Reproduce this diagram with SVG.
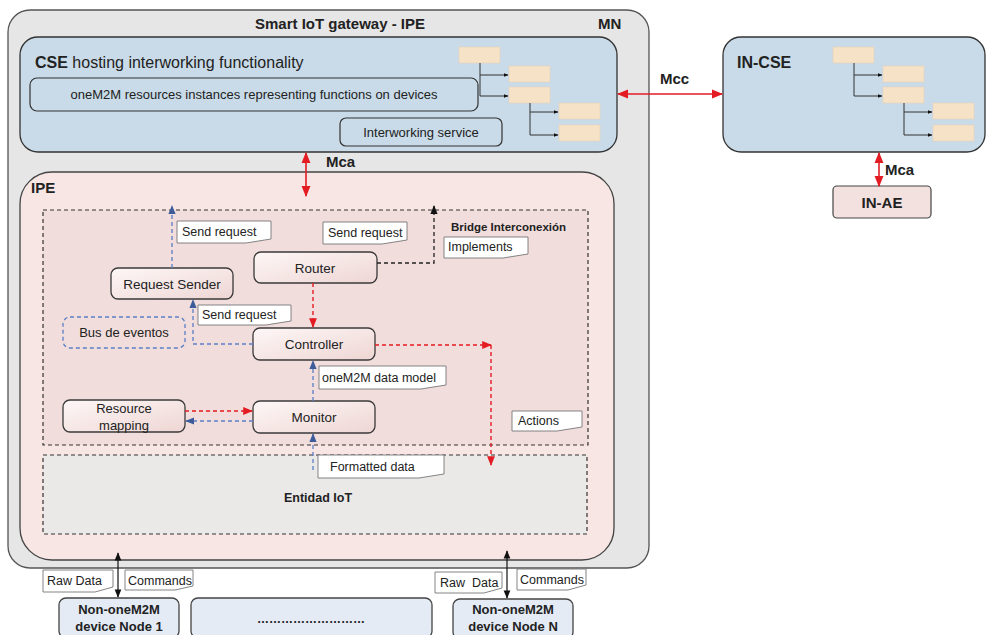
<svg xmlns="http://www.w3.org/2000/svg" width="986" height="635" viewBox="0 0 986 635">
<defs>
  <linearGradient id="nodeGrad" x1="0" y1="0" x2="1" y2="1">
    <stop offset="0" stop-color="#fdf7f6"/>
    <stop offset="1" stop-color="#eed6d4"/>
  </linearGradient>
  <marker id="ar" viewBox="0 0 10 10" refX="9" refY="5" markerWidth="7" markerHeight="7" orient="auto-start-reverse"><path d="M0,1 L10,5 L0,9 Z" fill="#e31b23"/></marker>
  <marker id="ab" viewBox="0 0 10 10" refX="9" refY="5" markerWidth="7" markerHeight="7" orient="auto-start-reverse"><path d="M0,1 L10,5 L0,9 Z" fill="#3d5c99"/></marker>
  <marker id="ak" viewBox="0 0 10 10" refX="9" refY="5" markerWidth="7" markerHeight="7" orient="auto-start-reverse"><path d="M0,1 L10,5 L0,9 Z" fill="#111"/></marker>
  <marker id="at" viewBox="0 0 10 10" refX="9" refY="5" markerWidth="5" markerHeight="5" orient="auto"><path d="M0,1 L10,5 L0,9 Z" fill="#111"/></marker>
  <g id="tree">
    <rect x="0" y="0" width="41" height="16" class="tb"/>
    <rect x="50" y="19" width="41" height="16" class="tb"/>
    <rect x="50" y="40" width="41" height="16" class="tb"/>
    <rect x="100" y="56" width="41" height="16" class="tb"/>
    <rect x="100" y="78" width="41" height="16" class="tb"/>
    <path d="M21,16 V49 M71,56 V88" class="tl"/>
    <path d="M21,28 H49" class="tl" marker-end="url(#at)"/>
    <path d="M21,49 H49" class="tl" marker-end="url(#at)"/>
    <path d="M71,65 H99" class="tl" marker-end="url(#at)"/>
    <path d="M71,88 H99" class="tl" marker-end="url(#at)"/>
  </g>
</defs>
<style>
  text { font-family: "Liberation Sans", Arial, sans-serif; fill: #222; }
  .b { font-weight: bold; }
  .tb { fill: #f6e2c6; stroke: #e6d2b6; stroke-width: 0.6; }
  .tl { fill: none; stroke: #333; stroke-width: 1; }
  .node { fill: url(#nodeGrad); stroke: #3a3a3a; stroke-width: 1.3; }
  .note { fill: #fff; stroke: #777; stroke-width: 0.9; }
  .nt { font-size: 12.5px; }
  .red { fill: none; stroke: #e31b23; stroke-width: 1.6; }
  .redd { fill: none; stroke: #e31b23; stroke-width: 1.4; stroke-dasharray: 4 3; }
  .blued { fill: none; stroke: #5b7fc7; stroke-width: 1.3; stroke-dasharray: 4 3; }
  .blk { fill: none; stroke: #111; stroke-width: 1.2; }
  .blkd { fill: none; stroke: #222; stroke-width: 1.3; stroke-dasharray: 4 3; }
  .dev { fill: #e4ebf5; stroke: #444; stroke-width: 1.3; }
</style>

<g id="mn">
  <rect x="8" y="10" width="641" height="558" rx="22" fill="#e6e6e6" stroke="#555" stroke-width="1.3"/>
  <text x="340" y="29" class="b" font-size="15" text-anchor="middle">Smart IoT gateway - IPE</text>
  <text x="598" y="29" class="b" font-size="15">MN</text>
</g>

<g id="cse">
  <rect x="20" y="37" width="597" height="115" rx="18" fill="#c9dbe8" stroke="#333" stroke-width="1.3"/>
  <text x="35" y="68" font-size="16"><tspan class="b">CSE</tspan> hosting interworking functionality</text>
  <use href="#tree" x="459" y="47"/>
</g>
<g id="resources">
  <rect x="30" y="78" width="448" height="33" rx="7" fill="#c9dbe8" stroke="#333" stroke-width="1.2"/>
  <text x="254" y="99" font-size="13" text-anchor="middle">oneM2M resources instances representing functions on devices</text>
</g>
<g id="interworking-service">
  <rect x="340" y="118" width="162" height="28" rx="6" fill="#c9dbe8" stroke="#333" stroke-width="1.2"/>
  <text x="421" y="137" font-size="13" text-anchor="middle">Interworking service</text>
</g>

<g id="in-cse">
  <rect x="723" y="37" width="262" height="115" rx="18" fill="#c9dbe8" stroke="#333" stroke-width="1.3"/>
  <text x="737" y="68" class="b" font-size="16">IN-CSE</text>
  <use href="#tree" x="833" y="47"/>
</g>
<g id="in-ae">
  <rect x="833" y="186" width="98" height="32" rx="4" fill="#f3e1df" stroke="#444" stroke-width="1.2"/>
  <text x="882" y="208" class="b" font-size="15" text-anchor="middle">IN-AE</text>
</g>

<g id="ipe">
  <rect x="20" y="172" width="594" height="388" rx="32" fill="#f8e6e4" stroke="#444" stroke-width="1.3"/>
  <text x="31" y="193" class="b" font-size="15">IPE</text>
</g>
<g id="bridge">
  <rect x="43" y="210" width="545" height="235" fill="#f1dddb" stroke="#333" stroke-width="1.2" stroke-dasharray="4 3"/>
  <text x="451" y="231" class="b" font-size="11.5">Bridge Interconexión</text>
</g>
<g id="entidad-iot">
  <rect x="43" y="455" width="544" height="79" fill="#ebe8e8" stroke="#333" stroke-width="1.2" stroke-dasharray="4 3"/>
  <text x="318" y="502" class="b" font-size="12.5" text-anchor="middle">Entidad IoT</text>
</g>

<g id="request-sender">
  <rect x="111" y="268" width="122" height="31" rx="7" class="node"/>
  <text x="172" y="289" font-size="13.5" text-anchor="middle">Request Sender</text>
</g>
<g id="router">
  <rect x="254" y="252" width="123" height="31" rx="7" class="node"/>
  <text x="315" y="273" font-size="13.5" text-anchor="middle">Router</text>
</g>
<g id="bus-de-eventos">
  <rect x="63" y="317" width="122" height="31" rx="7" fill="none" stroke="#5b7fc7" stroke-width="1.3" stroke-dasharray="4 3"/>
  <text x="124" y="337" font-size="13" text-anchor="middle">Bus de eventos</text>
</g>
<g id="controller">
  <rect x="253" y="328" width="122" height="32" rx="7" class="node"/>
  <text x="314" y="349" font-size="13.5" text-anchor="middle">Controller</text>
</g>
<g id="resource-mapping">
  <rect x="63" y="400" width="122" height="32" rx="7" class="node"/>
  <text x="124" y="413" font-size="13" text-anchor="middle">Resource</text>
  <text x="124" y="430" font-size="13" text-anchor="middle">mapping</text>
</g>
<g id="monitor">
  <rect x="253" y="401" width="122" height="32" rx="7" class="node"/>
  <text x="314" y="422" font-size="13.5" text-anchor="middle">Monitor</text>
</g>

<g id="notes">
  <path class="note" d="M177,221 H271 V239 L246,243 H177 Z"/><text x="182" y="236" class="nt">Send request</text>
  <path class="note" d="M323,222 H407 V240 L382,244 H323 Z"/><text x="328" y="237" class="nt">Send request</text>
  <path class="note" d="M444,237 H528 V254 L503,258 H444 Z"/><text x="448" y="251" class="nt">Implements</text>
  <path class="note" d="M198,305 H291 V321 L266,325 H198 Z"/><text x="202" y="319" class="nt">Send request</text>
  <path class="note" d="M319,366 H446 V385 L421,389 H319 Z"/><text x="322" y="382" class="nt">oneM2M data model</text>
  <path class="note" d="M512,411 H582 V427 L557,431 H512 Z"/><text x="518" y="425" class="nt">Actions</text>
  <path class="note" d="M318,455 H444 V474 L419,478 H318 Z"/><text x="330" y="471" class="nt">Formatted data</text>
  <path class="note" d="M43,570 H113 V587 L95,592 H43 Z"/><text x="47" y="585" class="nt">Raw Data</text>
  <path class="note" d="M125,570 H193 V586 L175,590 H125 Z"/><text x="128" y="585" class="nt">Commands</text>
  <path class="note" d="M435,572 H502 V588 L484,593 H435 Z"/><text x="440" y="587" class="nt" xml:space="preserve" style="white-space:pre">Raw  Data</text>
  <path class="note" d="M517,569 H586 V585 L568,590 H517 Z"/><text x="520" y="584" class="nt">Commands</text>
</g>

<g id="node-1">
  <rect x="59" y="598" width="120" height="40" rx="7" class="dev"/>
  <text x="119" y="614" class="b" font-size="13" text-anchor="middle">Non-oneM2M</text>
  <text x="119" y="631" class="b" font-size="13" text-anchor="middle">device Node 1</text>
</g>
<g id="node-dots">
  <rect x="191" y="598" width="241" height="40" rx="7" class="dev"/>
  <text x="311" y="623" class="b" font-size="12" text-anchor="middle">………………………</text>
</g>
<g id="node-n">
  <rect x="453" y="599" width="120" height="40" rx="7" class="dev"/>
  <text x="513" y="614" class="b" font-size="13" text-anchor="middle">Non-oneM2M</text>
  <text x="513" y="631" class="b" font-size="13" text-anchor="middle">device Node N</text>
</g>

<g id="connectors">
  <line x1="618" y1="94" x2="722" y2="94" class="red" marker-start="url(#ar)" marker-end="url(#ar)"/>
  <text x="660" y="84" class="b" font-size="15">Mcc</text>
  <line x1="879" y1="153" x2="879" y2="186" class="red" marker-start="url(#ar)" marker-end="url(#ar)"/>
  <text x="885" y="175" class="b" font-size="15">Mca</text>
  <line x1="306" y1="153" x2="306" y2="196" class="red" marker-start="url(#ar)" marker-end="url(#ar)"/>
  <text x="326" y="167" class="b" font-size="15">Mca</text>

  <line x1="172" y1="268" x2="172" y2="206" class="blued" marker-end="url(#ab)"/>
  <path d="M377,263 H434 V206" class="blkd" marker-end="url(#ak)"/>
  <line x1="313" y1="283" x2="313" y2="327" class="redd" marker-end="url(#ar)"/>
  <path d="M253,344 H193 V300" class="blued" marker-end="url(#ab)"/>
  <line x1="313" y1="401" x2="313" y2="361" class="blued" marker-end="url(#ab)"/>
  <path d="M375,345 H491" class="redd" marker-end="url(#ar)"/>
  <path d="M491,345 V465" class="redd" marker-end="url(#ar)"/>
  <line x1="185" y1="411" x2="252" y2="411" class="redd" marker-end="url(#ar)"/>
  <line x1="253" y1="421" x2="186" y2="421" class="blued" marker-end="url(#ab)"/>
  <line x1="313" y1="470" x2="313" y2="434" class="blued" marker-end="url(#ab)"/>

  <line x1="118" y1="553" x2="118" y2="597" class="blk" marker-start="url(#ak)" marker-end="url(#ak)"/>
  <line x1="507" y1="551" x2="507" y2="598" class="blk" marker-start="url(#ak)" marker-end="url(#ak)"/>
</g>
</svg>
